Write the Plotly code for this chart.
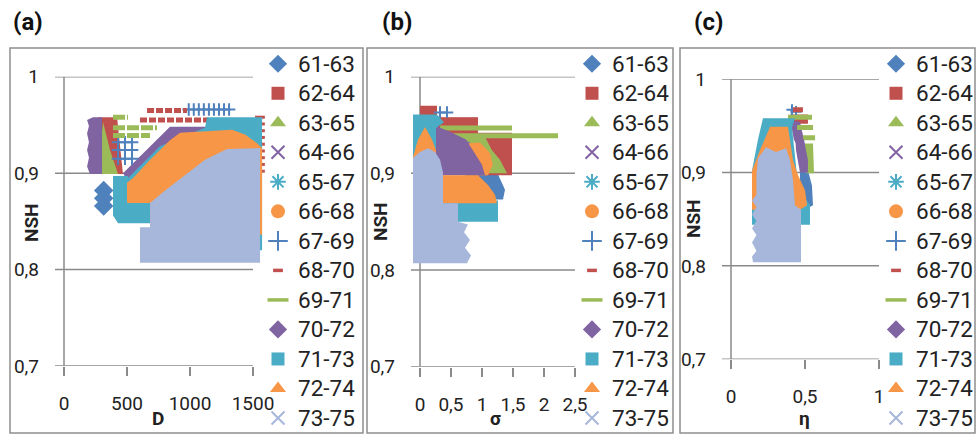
import plotly.graph_objects as go

W, H = 977, 435

# ---------------- series definitions ----------------
SERIES = ["61-63", "62-64", "63-65", "64-66", "65-67", "66-68", "67-69",
          "68-70", "69-71", "70-72", "71-73", "72-74", "73-75"]
COLORS = ["#4F81BD", "#C0504D", "#9BBB59", "#8064A2", "#4BACC6", "#F79646", "#4F81BD",
          "#C0504D", "#9BBB59", "#8064A2", "#4BACC6", "#F79646", "#A7B7DB"]
SYMBOLS = ["diamond", "square", "triangle-up", "x-thin", "asterisk", "circle", "cross-thin",
           "line-ew", "line-ew", "diamond", "square", "triangle-up", "x-thin"]
SYMBOL_SIZES = [14, 13, 14, 13, 13, 14, 14, 7, 15, 14, 13, 14, 13]

# ---------------- panel (a): NSH vs D ----------------
A_6163_D = [315, 315, 315]
A_6163_NSH = [0.882, 0.874, 0.866]
A_6264_D = [270, 421, 468, 397]
A_6264_NSH = [0.958, 0.958, 0.899, 0.899]
A_6365_D = [310, 365, 429, 246, 286]
A_6365_NSH = [0.953, 0.924, 0.899, 0.899, 0.924]
A_6466_D = [468, 841, 1198, 1198, 540]
A_6466_NSH = [0.900, 0.948, 0.948, 0.885, 0.885]
A_6567_D = [389, 508, 508, 389]
A_6567_NSH = [0.897, 0.897, 0.882, 0.882]
A_6668_D = [900, 1400, 1400, 900]
A_6668_NSH = [0.930, 0.930, 0.870, 0.870]
A_6769_D = [990, 1030, 1070, 1110, 1150, 1190, 1230, 1270, 1310,
            429, 484, 540, 429, 484, 540, 429, 484, 540]
A_6769_NSH = [0.966, 0.966, 0.966, 0.966, 0.966, 0.966, 0.966, 0.966, 0.966,
              0.932, 0.932, 0.932, 0.924, 0.924, 0.924, 0.915, 0.915, 0.915]
A_6870_D_FROM = [659, 603]
A_6870_D_TO = [976, 1143]
A_6870_NSH = [0.965, 0.955]
A_6870_EDGE_D = [1555, 1555, 1555, 1555, 1555, 1555, 1555, 1555, 1555]
A_6870_EDGE_NSH = [0.958, 0.951, 0.944, 0.937, 0.930, 0.923, 0.916, 0.909, 0.902]
A_6971_D_FROM = [389, 389, 389]
A_6971_D_TO = [508, 738, 683]
A_6971_NSH = [0.958, 0.947, 0.939]
A_7072_D = [230, 302, 302, 206, 183, 198, 183, 198, 183, 198, 183]
A_7072_NSH = [0.958, 0.958, 0.899, 0.899, 0.907, 0.916, 0.924, 0.932, 0.941, 0.949, 0.955]
A_7173_D = [389, 444, 508, 762, 1119, 1135, 1572, 1572, 683, 683, 429, 389]
A_7173_NSH = [0.887, 0.897, 0.895, 0.928, 0.947, 0.958, 0.958, 0.820, 0.820, 0.848, 0.848, 0.856]
A_7274_D = [500, 500, 548, 603, 683, 762, 841, 921, 1333, 1437, 1532, 1572, 1572, 683, 683]
A_7274_NSH = [0.869, 0.890, 0.895, 0.903, 0.914, 0.924, 0.934, 0.942, 0.945, 0.940, 0.931,
              0.926, 0.836, 0.836, 0.869]
A_7375_D = [603, 1556, 1556, 1294, 1119, 960, 802, 683, 683, 603]
A_7375_NSH = [0.807, 0.807, 0.926, 0.925, 0.914, 0.898, 0.882, 0.869, 0.844, 0.844]

# ---------------- panel (b): NSH vs sigma ----------------
B_6163_S = [0.726, 0.935, 1.081, 1.210, 1.290, 1.371, 1.339, 0.806, 0.726]
B_6163_NSH = [0.942, 0.937, 0.924, 0.906, 0.893, 0.883, 0.873, 0.873, 0.898]
B_6264_S = [0, 0.274, 0.274, 0.935, 0.935, 1.484, 1.484, 0.806, 0]
B_6264_NSH = [0.970, 0.970, 0.958, 0.958, 0.942, 0.942, 0.898, 0.898, 0.898]
B_6365_S = [0.645, 1.048, 1.161, 1.290, 1.403, 0.645]
B_6365_NSH = [0.938, 0.938, 0.924, 0.914, 0.900, 0.900]
B_6466_S = [0.323, 0.806, 0.935, 0.323]
B_6466_NSH = [0.945, 0.932, 0.914, 0.914]
B_6567_S = [-0.081, 0.210, 0.210, -0.081]
B_6567_NSH = [0.960, 0.960, 0.945, 0.945]
B_6668_S = [0.726, 0.968, 1.129, 1.177, 1.097, 0.726]
B_6668_NSH = [0.931, 0.932, 0.921, 0.909, 0.898, 0.898]
B_6769_S = [0.323, 0.435]
B_6769_NSH = [0.963, 0.963]
B_6870_S_FROM = [0.210]
B_6870_S_TO = [0.935]
B_6870_NSH = [0.955]
B_6971_S_FROM = [0.323, 0.452]
B_6971_S_TO = [1.484, 2.226]
B_6971_NSH = [0.947, 0.939]
B_7072_S = [0.258, 0.484, 0.742, 0.871, 1.000, 1.048, 0.258]
B_7072_NSH = [0.949, 0.943, 0.935, 0.922, 0.909, 0.898, 0.898]
B_7173_S = [-0.113, 0.274, 0.387, 0.258, 0.258, 0.645, 1.258, 1.258, -0.113]
B_7173_NSH = [0.961, 0.961, 0.953, 0.947, 0.872, 0.872, 0.872, 0.850, 0.850]
B_7274_S = [-0.113, -0.032, 0.081, 0.194, 0.258, 0.258, 0.935, 1.097, 1.210, 1.242, -0.113]
B_7274_NSH = [0.917, 0.935, 0.948, 0.935, 0.924, 0.898, 0.898, 0.888, 0.878, 0.869, 0.869]
B_7375_S = [-0.113, 0.758, 0.823, 0.726, 0.806, 0.710, 0.774, 0.613, 0.613, 0.371, 0.371,
            0.323, 0.242, 0.129, 0.0, -0.113]
B_7375_NSH = [0.807, 0.807, 0.815, 0.823, 0.831, 0.839, 0.847, 0.850, 0.869, 0.869, 0.901,
              0.914, 0.922, 0.926, 0.922, 0.916]

# ---------------- panel (c): NSH vs eta ----------------
C_6163_E = [0.466, 0.520, 0.547, 0.554, 0.500, 0.466]
C_6163_NSH = [0.908, 0.902, 0.886, 0.865, 0.860, 0.870]
C_6264_E = [0.399, 0.520, 0.520, 0.399]
C_6264_NSH = [0.962, 0.962, 0.952, 0.952]
C_6365_E = [0.500, 0.554, 0.561, 0.507]
C_6365_NSH = [0.931, 0.931, 0.899, 0.899]
C_6466_E = [0.399, 0.466, 0.493, 0.507, 0.480, 0.425]
C_6466_NSH = [0.956, 0.954, 0.935, 0.920, 0.920, 0.935]
C_6567_E = [0.260, 0.400, 0.400, 0.260]
C_6567_NSH = [0.945, 0.945, 0.870, 0.870]
C_6668_E = [0.160, 0.230, 0.230, 0.160]
C_6668_NSH = [0.915, 0.915, 0.865, 0.865]
C_6769_E = [0.412, 0.439]
C_6769_NSH = [0.967, 0.965]
C_6870_E_FROM = [0.419]
C_6870_E_TO = [0.486]
C_6870_NSH = [0.967]
C_6971_E_FROM = [0.385, 0.446, 0.486, 0.500, 0.500, 0.500]
C_6971_E_TO = [0.547, 0.554, 0.568, 0.547, 0.547, 0.534]
C_6971_NSH = [0.959, 0.948, 0.937, 0.927, 0.917, 0.907]
C_7072_E = [0.432, 0.493, 0.520, 0.520, 0.466, 0.439]
C_7072_NSH = [0.945, 0.935, 0.913, 0.900, 0.900, 0.924]
C_7173_E = [0.216, 0.432, 0.412, 0.446, 0.486, 0.534, 0.534, 0.142, 0.142, 0.182]
C_7173_NSH = [0.958, 0.958, 0.948, 0.897, 0.876, 0.865, 0.844, 0.844, 0.902, 0.935]
C_7274_E = [0.264, 0.385, 0.419, 0.453, 0.500, 0.514, 0.466, 0.142, 0.142, 0.196]
C_7274_NSH = [0.949, 0.949, 0.913, 0.897, 0.881, 0.865, 0.860, 0.860, 0.902, 0.924]
C_7375_E = [0.149, 0.473, 0.473, 0.432, 0.419, 0.399, 0.372, 0.304, 0.236, 0.182, 0.172,
            0.172, 0.142, 0.172, 0.142, 0.172, 0.142, 0.172, 0.142, 0.172, 0.142]
C_7375_NSH = [0.804, 0.804, 0.860, 0.865, 0.892, 0.913, 0.926, 0.922, 0.927, 0.915, 0.897,
              0.876, 0.870, 0.863, 0.855, 0.848, 0.840, 0.833, 0.825, 0.816, 0.810]

# ---------------- axis ticks ----------------
NSH_TICKS = [0.7, 0.8, 0.9, 1.0]
D_TICKS = [0, 500, 1000, 1500]
S_TICKS = [0, 0.5, 1, 1.5, 2, 2.5]
E_TICKS = [0, 0.5, 1]

GRID = "#8a8a8a"
TXT = "#222222"
FONT = "Roboto"


def px_x(p):
    return p / W


def px_y(p):
    return 1 - p / H


def cloud(x, y, color, ax):
    return go.Scatter(x=x, y=y, mode="lines", fill="toself", fillcolor=color,
                      line=dict(width=0, color=color), hoverinfo="skip",
                      showlegend=False, xaxis=ax[0], yaxis=ax[1])


def dash_rows(x_from, x_to, y, color, width, ax, dash="solid"):
    xs, ys = [], []
    for a, b, v in zip(x_from, x_to, y):
        xs += [a, b, None]
        ys += [v, v, None]
    return go.Scatter(x=xs, y=ys, mode="lines", line=dict(color=color, width=width, dash=dash),
                      hoverinfo="skip", showlegend=False, xaxis=ax[0], yaxis=ax[1])


def points(x, y, symbol, size, color, ax, lw=2):
    return go.Scatter(x=x, y=y, mode="markers", cliponaxis=False,
                      marker=dict(symbol=symbol, size=size, color=color,
                                  line=dict(width=lw, color=color)),
                      hoverinfo="skip", showlegend=False, xaxis=ax[0], yaxis=ax[1])


fig = go.Figure()

# panel (a)
ax = ("x", "y")
fig.add_trace(points(A_6163_D, A_6163_NSH, "diamond", 15, COLORS[0], ax, 0))
fig.add_trace(cloud(A_6264_D, A_6264_NSH, COLORS[1], ax))
fig.add_trace(cloud(A_6365_D, A_6365_NSH, COLORS[2], ax))
fig.add_trace(cloud(A_6466_D, A_6466_NSH, COLORS[3], ax))
fig.add_trace(cloud(A_6567_D, A_6567_NSH, COLORS[4], ax))
fig.add_trace(cloud(A_6668_D, A_6668_NSH, COLORS[5], ax))
fig.add_trace(points(A_6769_D, A_6769_NSH, "cross-thin", 9, COLORS[6], ax, 2))
fig.add_trace(dash_rows(A_6870_D_FROM, A_6870_D_TO, A_6870_NSH, COLORS[7], 5, ax, "7px,2px"))
fig.add_trace(points(A_6870_EDGE_D, A_6870_EDGE_NSH, "line-ew", 7, COLORS[7], ax, 3))
fig.add_trace(dash_rows(A_6971_D_FROM, A_6971_D_TO, A_6971_NSH, COLORS[8], 5, ax, "12px,2px"))
fig.add_trace(cloud(A_7072_D, A_7072_NSH, COLORS[9], ax))
fig.add_trace(cloud(A_7173_D, A_7173_NSH, COLORS[10], ax))
fig.add_trace(cloud(A_7274_D, A_7274_NSH, COLORS[11], ax))
fig.add_trace(cloud(A_7375_D, A_7375_NSH, COLORS[12], ax))

# panel (b)
ax = ("x2", "y2")
fig.add_trace(cloud(B_6163_S, B_6163_NSH, COLORS[0], ax))
fig.add_trace(cloud(B_6264_S, B_6264_NSH, COLORS[1], ax))
fig.add_trace(cloud(B_6365_S, B_6365_NSH, COLORS[2], ax))
fig.add_trace(cloud(B_6466_S, B_6466_NSH, COLORS[3], ax))
fig.add_trace(cloud(B_6567_S, B_6567_NSH, COLORS[4], ax))
fig.add_trace(cloud(B_6668_S, B_6668_NSH, COLORS[5], ax))
fig.add_trace(points(B_6769_S, B_6769_NSH, "cross-thin", 9, COLORS[6], ax, 2))
fig.add_trace(dash_rows(B_6870_S_FROM, B_6870_S_TO, B_6870_NSH, COLORS[7], 5, ax))
fig.add_trace(dash_rows(B_6971_S_FROM, B_6971_S_TO, B_6971_NSH, COLORS[8], 5, ax))
fig.add_trace(cloud(B_7072_S, B_7072_NSH, COLORS[9], ax))
fig.add_trace(cloud(B_7173_S, B_7173_NSH, COLORS[10], ax))
fig.add_trace(cloud(B_7274_S, B_7274_NSH, COLORS[11], ax))
fig.add_trace(cloud(B_7375_S, B_7375_NSH, COLORS[12], ax))

# panel (c)
ax = ("x3", "y3")
fig.add_trace(cloud(C_6163_E, C_6163_NSH, COLORS[0], ax))
fig.add_trace(cloud(C_6264_E, C_6264_NSH, COLORS[1], ax))
fig.add_trace(cloud(C_6365_E, C_6365_NSH, COLORS[2], ax))
fig.add_trace(cloud(C_6466_E, C_6466_NSH, COLORS[3], ax))
fig.add_trace(cloud(C_6567_E, C_6567_NSH, COLORS[4], ax))
fig.add_trace(cloud(C_6668_E, C_6668_NSH, COLORS[5], ax))
fig.add_trace(points(C_6769_E, C_6769_NSH, "cross-thin", 8, COLORS[6], ax, 2))
fig.add_trace(dash_rows(C_6870_E_FROM, C_6870_E_TO, C_6870_NSH, COLORS[7], 5, ax))
fig.add_trace(dash_rows(C_6971_E_FROM, C_6971_E_TO, C_6971_NSH, COLORS[8], 5, ax))
fig.add_trace(cloud(C_7072_E, C_7072_NSH, COLORS[9], ax))
fig.add_trace(cloud(C_7173_E, C_7173_NSH, COLORS[10], ax))
fig.add_trace(cloud(C_7274_E, C_7274_NSH, COLORS[11], ax))
fig.add_trace(cloud(C_7375_E, C_7375_NSH, COLORS[12], ax))

# legend entries, one legend per panel
for legend_id, ax in (("legend", ("x", "y")), ("legend2", ("x2", "y2")), ("legend3", ("x3", "y3"))):
    for name, color, sym, size in zip(SERIES, COLORS, SYMBOLS, SYMBOL_SIZES):
        line_w = 3.5 if sym.startswith("line") else (2 if sym in ("x-thin", "cross-thin", "asterisk") else 0)
        fig.add_trace(go.Scatter(
            x=[None], y=[None], mode="markers", legend=legend_id,
            name='<span style="font-size:22.5px">%s</span>' % name,
            marker=dict(symbol=sym, size=size, color=color, line=dict(width=line_w, color=color)),
            xaxis=ax[0], yaxis=ax[1], hoverinfo="skip"))

# axes
panels = [
    # x axis name, y axis name, left px, right px, top px, bottom px, x range, ticks, max tick
    ("xaxis", "yaxis", 55, 264.6, 76.7, 366.0, [-71.4, 1592], D_TICKS, 1500),
    ("xaxis2", "yaxis2", 411, 575, 76.7, 366.7, [-0.145, 2.5], S_TICKS, 2.5),
    ("xaxis3", "yaxis3", 722, 879, 79.0, 359.3, [-0.0608, 1.0], E_TICKS, 1.0),
]
layout_axes = {}
shapes = []
for i, (xn, yn, l, r, t, b, xr, xt, xmax) in enumerate(panels):
    layout_axes[xn] = dict(domain=[px_x(l), px_x(r)], range=xr, tickvals=xt,
                           ticks="outside", ticklen=9, tickwidth=1.5, tickcolor=GRID,
                           showgrid=False, zeroline=False, showline=False,
                           tickfont=dict(family=FONT, size=19, color=TXT),
                           ticklabelstandoff=11, anchor=yn.replace("axis", ""),
                           fixedrange=True)
    layout_axes[yn] = dict(domain=[px_y(b), px_y(t)], range=[0.7, 1.0], tickvals=NSH_TICKS,
                           ticks="", showgrid=False, zeroline=False, showline=False,
                           tickfont=dict(family=FONT, size=19, color=TXT),
                           ticklabelstandoff=15, anchor=xn.replace("axis", ""),
                           fixedrange=True)
    xref = xn.replace("axis", "")
    yref = yn.replace("axis", "")
    for v in NSH_TICKS:
        shapes.append(dict(type="line", xref=xref, yref=yref, x0=xr[0], x1=xmax, y0=v, y1=v,
                           line=dict(color=GRID, width=1.5), layer="below"))
    shapes.append(dict(type="line", xref=xref, yref=yref, x0=0, x1=0, y0=0.7, y1=1.0,
                       line=dict(color=GRID, width=1.5), layer="below"))

# panel frames
for l, r in ((10, 363), (367, 673), (680, 975)):
    shapes.append(dict(type="rect", xref="paper", yref="paper", x0=px_x(l), x1=px_x(r),
                       y0=px_y(433), y1=px_y(48), line=dict(color="#8f8f8f", width=1.5),
                       layer="above"))


def label(text, xp, yp, size, angle=0, color=TXT):
    return dict(text=text, x=px_x(xp), y=px_y(yp), xref="paper", yref="paper",
                xanchor="center", yanchor="middle", showarrow=False, textangle=angle,
                font=dict(family=FONT, size=size, color=color))


annotations = []
for name, xp in (("(a)", 28), ("(b)", 397), ("(c)", 708)):
    annotations.append(label("<b>%s</b>" % name, xp, 22, 24, color="#111111"))
for xp, yp in ((31, 222), (380, 222), (693, 219)):
    annotations.append(label("<b>NSH</b>", xp, yp, 19, angle=-90))
for name, xp in (("D", 158), ("σ", 496), ("η", 804)):
    annotations.append(label("<b>%s</b>" % name, xp, 418, 19))

legend_common = dict(font=dict(family=FONT, size=20.4, color=TXT), bgcolor="rgba(0,0,0,0)",
                     borderwidth=0, xanchor="left", yanchor="top", y=px_y(44),
                     traceorder="normal", itemclick=False, itemdoubleclick=False)

fig.update_layout(
    width=W, height=H,
    margin=dict(l=0, r=0, t=0, b=0, autoexpand=False),
    paper_bgcolor="white", plot_bgcolor="white",
    separators=", ",
    showlegend=True,
    legend=dict(x=px_x(258), **legend_common),
    legend2=dict(x=px_x(572), **legend_common),
    legend3=dict(x=px_x(876), **legend_common),
    shapes=shapes,
    annotations=annotations,
    **layout_axes,
)

fig.write_html("out.html")
